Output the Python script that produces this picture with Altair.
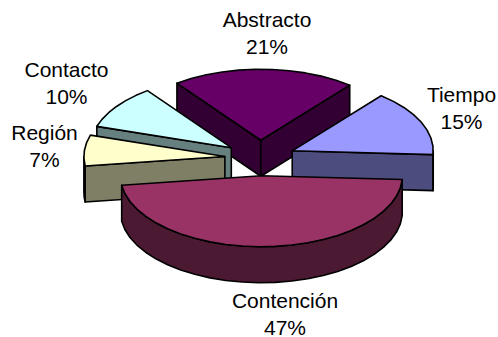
import math
import altair as alt

# Shares of each category, in clockwise drawing order
categories = ["Abstracto", "Tiempo", "Contención", "Región", "Contacto"]
percents = [21, 15, 47, 7, 10]
top_colors = ["#660066", "#9999FF", "#993366", "#FFFFCC", "#CCFFFF"]
side_colors = ["#330033", "#4C4C7F", "#4C1933", "#7F7F66", "#667F7F"]

# Label anchors: centre x and first-line baseline, in chart pixels
label_x = [267, 461.5, 285, 44.5, 66.5]
label_y = [27, 102, 308, 140, 77]

# Tilted-disc geometry
CX, CY = 260, 158
RX, RY = 141, 71
DEPTH = 36
EXPLODE = 0.25
START_ANGLE = 233.5
STEP = 7.0


def arc_points(cx, cy, a0, a1):
    n = max(1, int(math.ceil((a1 - a0) / STEP)))
    pts = []
    for i in range(n + 1):
        a = math.radians(a0 + (a1 - a0) * i / n)
        pts.append([cx + RX * math.cos(a), cy + RY * math.sin(a)])
    return pts


def feature(points, fill):
    ring = points + [points[0]]
    return {
        "type": "Feature",
        "properties": {"fill": fill},
        "geometry": {"type": "Polygon", "coordinates": [ring]},
    }


def slice_faces(a0, a1, top, side):
    mid = math.radians((a0 + a1) / 2)
    cx = CX + EXPLODE * RX * math.cos(mid)
    cy = CY + EXPLODE * RY * math.sin(mid)
    faces = []

    def radial(angle):
        rim = arc_points(cx, cy, angle, angle)[0]
        return feature(
            [[cx, cy], rim, [rim[0], rim[1] + DEPTH], [cx, cy + DEPTH]], side
        )

    # Only the walls turned towards the viewer are drawn
    if math.cos(math.radians(a0)) < 0:
        faces.append(radial(a0))
    if math.cos(math.radians(a1)) > 0:
        faces.append(radial(a1))

    # Curved outer wall on the near half of the disc
    for k in (0, 360):
        lo, hi = max(a0, k), min(a1, k + 180)
        if hi > lo:
            upper = arc_points(cx, cy, lo, hi)
            lower = [[x, y + DEPTH] for x, y in reversed(upper)]
            faces.append(feature(upper + lower, side))

    faces.append(feature([[cx, cy]] + arc_points(cx, cy, a0, a1), top))
    return faces


# Walk round the disc turning each share into an angular span
spans = []
angle = START_ANGLE
for p in percents:
    spans.append((angle, angle + p * 3.6))
    angle += p * 3.6

# Painter's order: back slices first, the large near slice last
features = []
for i in [0, 4, 1, 3, 2]:
    features += slice_faces(spans[i][0], spans[i][1], top_colors[i], side_colors[i])

pie = (
    alt.Chart(alt.Data(values=features))
    .mark_geoshape(stroke="black", strokeWidth=1.6, strokeJoin="round")
    .encode(fill=alt.Fill("properties.fill:N", scale=None))
    .project(type="identity", scale=1, translate=[0, 0])
)

rows = [
    {"label": f"{c}\n{p}%", "x": x, "y": y}
    for c, p, x, y in zip(categories, percents, label_x, label_y)
]
labels = (
    alt.Chart(alt.Data(values=rows))
    .mark_text(
        font="Liberation Sans",
        fontSize=21,
        color="black",
        align="center",
        baseline="alphabetic",
        lineBreak="\n",
        lineHeight=27,
    )
    .encode(
        x=alt.X("x:Q", scale=alt.Scale(domain=[0, 498], range=[0, 498]), axis=None),
        y=alt.Y("y:Q", scale=alt.Scale(domain=[0, 337], range=[0, 337]), axis=None),
        text="label:N",
    )
)

chart = (
    alt.layer(pie, labels)
    .resolve_scale(x="independent", y="independent")
    .properties(
        width=498,
        height=337,
        padding=0,
        background="white",
        autosize=alt.AutoSizeParams(type="none"),
    )
    .configure_view(stroke=None)
)

chart.save("out.html", embed_options={"renderer": "svg", "actions": False})
